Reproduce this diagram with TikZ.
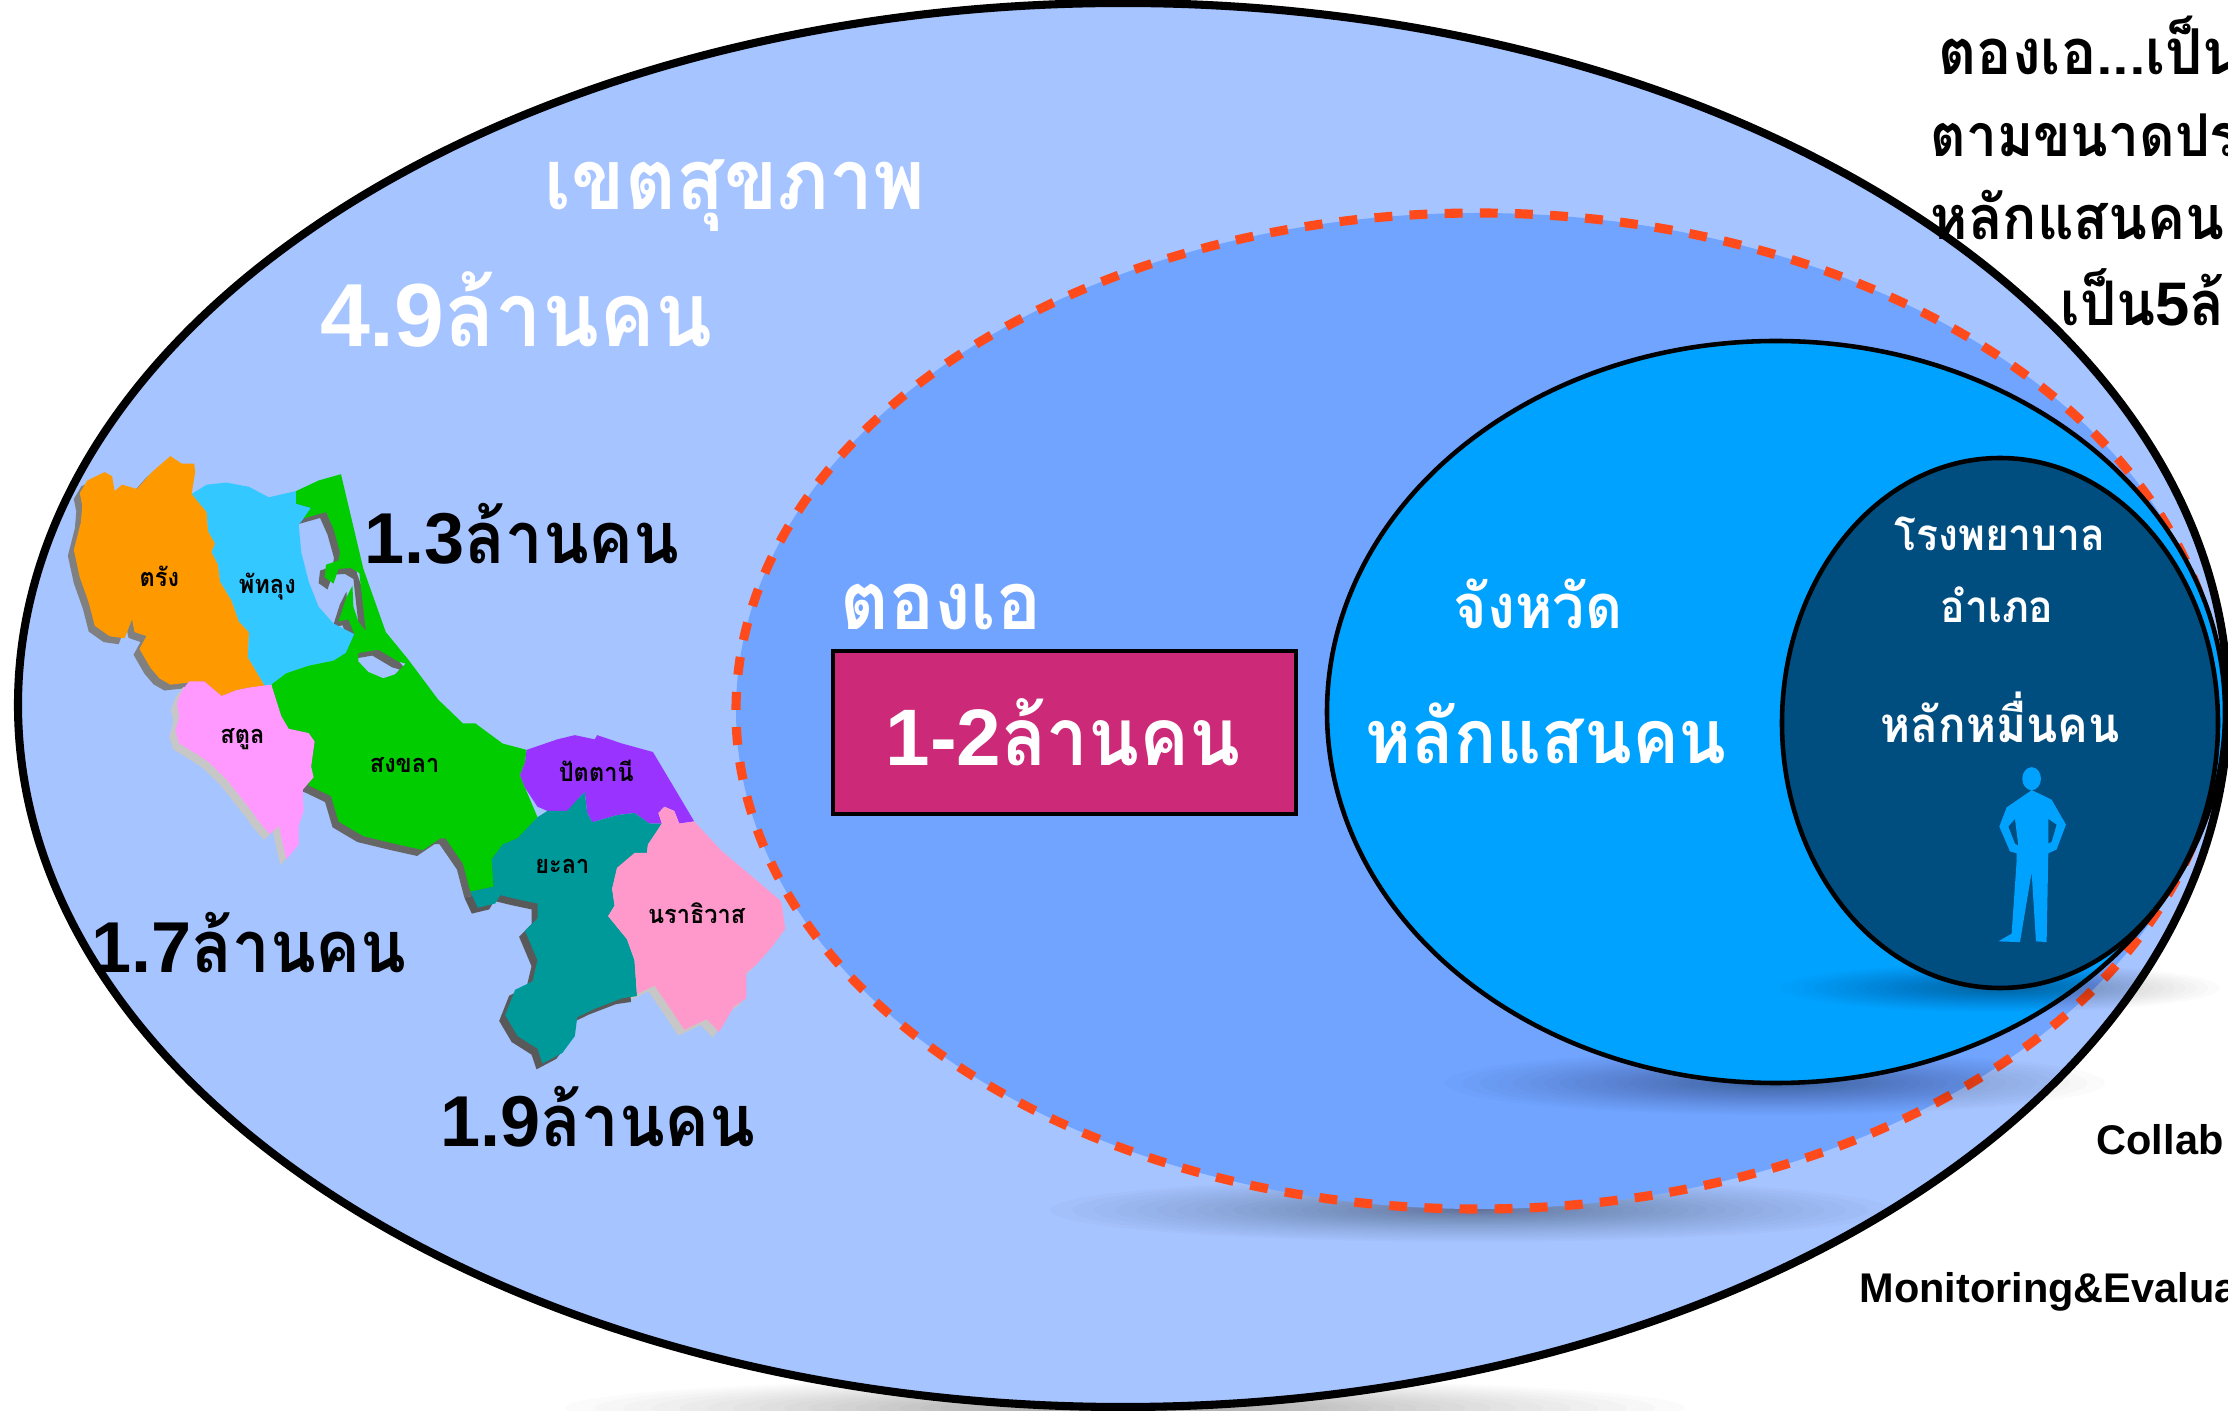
\documentclass[tikz,border=0pt]{standalone}
\usepackage{fontspec}
\usepackage{xcolor}
\newfontfamily\thaifont[Script=Thai,FakeStretch=0.93]{Loma}
\newfontfamily\numfont{Liberation Sans}
\newcommand{\fsize}[1]{\fontsize{#1}{#1}\selectfont}
\newcommand{\popnum}[1]{{\numfont\bfseries #1}ล้านคน}
\newcommand{\softshadow}[4]{\foreach \k in {1,...,30} {\fill[black,opacity=0.016] (#1,#2) ellipse ({#3*pow(\k/30,1.6)} and {#4*pow(\k/30,1.6)});}}
\definecolor{regionblue}{HTML}{A6C4FF}
\definecolor{clusterblue}{HTML}{70A4FF}
\definecolor{provblue}{HTML}{00A2FF}
\definecolor{distblue}{HTML}{004D80}
\definecolor{dashred}{HTML}{FF4A1C}
\definecolor{boxpink}{HTML}{CC2A78}
\definecolor{trangorange}{HTML}{FF9900}
\definecolor{phatblue}{HTML}{33C8FF}
\definecolor{songkhlagreen}{HTML}{00CC00}
\definecolor{satunpink}{HTML}{FF99FF}
\definecolor{pattanipurple}{HTML}{9933FF}
\definecolor{yalateal}{HTML}{009999}
\definecolor{nararose}{HTML}{FF99CC}
\tikzset{
  bigtext/.style={font=\thaifont\bfseries\fsize{#1}, inner sep=0pt},
  maplabel/.style={font=\thaifont\bfseries\fsize{7.2}, inner sep=0pt},
  sidelabel/.style={font=\numfont\bfseries\fsize{11.8}, inner sep=0pt, anchor=west},
  righttext/.style={font=\thaifont\bfseries\fsize{#1}, inner sep=0pt, anchor=west},
}
\def\trangpath{(80,150) -- (95,120) -- (130,100) -- (145,110) -- (150,145) -- (165,130) -- (195,140) -- (225,100) -- (262,62) -- (285,80) -- (310,80) -- (312,100) -- (305,150) -- (335,195) -- (338,240) -- (352,270) -- (345,290) -- (358,320) -- (362,360) -- (385,405) -- (400,455) -- (420,480) -- (418,540) -- (453,610) -- (420,612) -- (395,618) -- (365,632) -- (330,597) -- (300,600) -- (262,605) -- (240,590) -- (222,565) -- (200,520) -- (230,455) -- (215,490) -- (190,480) -- (185,450) -- (170,495) -- (140,490) -- (110,465) -- (98,410) -- (80,350) -- (68,285) -- (82,220) -- (85,180) -- cycle}
\def\phatpath{(305,152) -- (335,130) -- (375,125) -- (420,135) -- (460,160) -- (515,145) -- (515,175) -- (545,185) -- (530,210) -- (520,225) -- (525,290) -- (540,360) -- (560,420) -- (590,460) -- (632,485) -- (615,530) -- (590,548) -- (540,560) -- (495,578) -- (465,605) -- (453,610) -- (418,540) -- (420,480) -- (400,455) -- (385,405) -- (362,360) -- (358,320) -- (345,290) -- (352,270) -- (338,240) -- (335,195) -- cycle}
\def\songkhlapath{(515,145) -- (560,120) -- (605,105) -- (650,330) -- (695,480) -- (740,545) -- (800,640) -- (850,697) -- (875,697) -- (930,745) -- (978,760) -- (975,790) -- (965,820) -- (975,850) -- (1000,920) -- (960,970) -- (930,985) -- (908,1020) -- (912,1085) -- (865,1097) -- (850,1030) -- (815,970) -- (805,970) -- (770,998) -- (720,985) -- (650,965) -- (600,930) -- (585,870) -- (550,850) -- (540,845) -- (552,740) -- (540,720) -- (500,710) -- (485,680) -- (465,605) -- (495,578) -- (540,560) -- (590,548) -- (615,530) -- (632,485) -- (620,450) -- (600,455) -- (615,400) -- (628,370) -- (630,420) -- (640,455) -- (655,478) -- (642,340) -- (625,328) -- (600,330) -- (590,365) -- (572,350) -- (575,320) -- (600,310) -- (603,290) -- (590,235) -- (575,195) -- (530,210) -- (545,185) -- (515,175) -- cycle (640,530) -- (680,522) -- (720,550) -- (735,555) -- (715,580) -- (690,590) -- (660,575) -- (640,550) -- cycle}
\def\satunpath{(300,597) -- (330,597) -- (365,632) -- (395,618) -- (420,612) -- (465,605) -- (485,680) -- (500,710) -- (540,720) -- (552,740) -- (545,800) -- (550,825) -- (528,855) -- (530,905) -- (520,940) -- (520,985) -- (495,1020) -- (480,940) -- (462,960) -- (440,930) -- (425,905) -- (395,860) -- (375,830) -- (340,790) -- (315,770) -- (280,745) -- (272,715) -- (280,680) -- (275,650) -- (285,620) -- cycle}
\def\pattanipath{(978,760) -- (1040,735) -- (1075,725) -- (1115,735) -- (1120,725) -- (1170,745) -- (1232,765) -- (1315,930) -- (1285,935) -- (1275,905) -- (1255,895) -- (1243,910) -- (1250,935) -- (1225,935) -- (1195,910) -- (1160,915) -- (1110,932) -- (1100,910) -- (1095,860) -- (1075,885) -- (1060,905) -- (1020,905) -- (1000,895) -- (975,850) -- (965,820) -- (975,790) -- cycle}
\def\yalapath{(1000,920) -- (1020,905) -- (1060,905) -- (1075,885) -- (1095,860) -- (1100,910) -- (1110,932) -- (1160,915) -- (1195,910) -- (1225,935) -- (1250,935) -- (1222,985) -- (1220,1005) -- (1195,1005) -- (1175,1025) -- (1160,1040) -- (1150,1090) -- (1155,1130) -- (1142,1155) -- (1180,1210) -- (1195,1260) -- (1200,1345) -- (1170,1350) -- (1115,1375) -- (1080,1395) -- (1075,1440) -- (1050,1480) -- (1010,1505) -- (1000,1470) -- (960,1440) -- (935,1390) -- (955,1330) -- (990,1310) -- (1000,1260) -- (975,1190) -- (1000,1160) -- (1000,1125) -- (960,1115) -- (925,1105) -- (915,1125) -- (880,1135) -- (865,1097) -- (912,1085) -- (908,1020) -- (930,985) -- (960,970) -- cycle}
\def\narapath{(1250,935) -- (1243,910) -- (1255,895) -- (1275,905) -- (1285,935) -- (1315,930) -- (1370,1000) -- (1420,1050) -- (1490,1120) -- (1498,1185) -- (1470,1230) -- (1440,1270) -- (1420,1290) -- (1420,1350) -- (1395,1370) -- (1365,1430) -- (1340,1400) -- (1295,1425) -- (1270,1380) -- (1235,1320) -- (1200,1340) -- (1195,1260) -- (1180,1210) -- (1142,1155) -- (1155,1130) -- (1150,1090) -- (1160,1040) -- (1175,1025) -- (1195,1005) -- (1220,1005) -- (1222,985) -- cycle}
\begin{document}
\begin{tikzpicture}[x=0.1mm,y=-0.1mm]
\useasboundingbox (0,0) rectangle (2228,1411);
\clip (0,0) rectangle (2228,1411);
\fill[white] (0,0) rectangle (2228,1411);

\softshadow{1125}{1408}{560}{30}
\filldraw[fill=regionblue,draw=black,line width=2.3pt] (1123,705) ellipse (1105 and 702);

\softshadow{1470}{1210}{420}{32}
\filldraw[fill=clusterblue,draw=dashred,line width=2.6pt,dash pattern=on 5.1pt off 4.9pt] (1478,711) ellipse (742 and 498);

\softshadow{1775}{1083}{330}{32}
\filldraw[fill=provblue,draw=black,line width=1.3pt] (1776,712) ellipse (449 and 371);

\softshadow{2000}{988}{220}{24}
\filldraw[fill=distblue,draw=black,line width=1.3pt] (2000,723) ellipse (218 and 265);

\begin{scope}[shift={(40,430)},xscale=0.4975,yscale=0.4209]
\begin{scope}[shift={(-12,14)}]
\fill[black!50] \trangpath;
\fill[black!22] \satunpath;
\fill[black!60,even odd rule] \songkhlapath;
\fill[black!65] \yalapath;
\fill[black!22] \narapath;
\end{scope}
\fill[trangorange] \trangpath;
\fill[phatblue] \phatpath;
\fill[songkhlagreen,even odd rule] \songkhlapath;
\fill[satunpink] \satunpath;
\fill[pattanipurple] \pattanipath;
\fill[yalateal] \yalapath;
\fill[nararose] \narapath;
\node[maplabel] (trang) at (240,348) {ตรัง};
\node[maplabel] (phatthalung) at (457,372) {พัทลุง};
\node[maplabel] (satun) at (407,735) {สตูล};
\node[maplabel] (songkhla) at (733,795) {สงขลา};
\node[maplabel] (pattani) at (1118,810) {ปัตตานี};
\node[maplabel] (yala) at (1050,1038) {ยะลา};
\node[maplabel] (narathiwat) at (1320,1147) {นราธิวาส};
\end{scope}

\begin{scope}[shift={(1750,440)},xscale=0.3333,yscale=0.3827]
\fill[provblue,even odd rule] (845,885) ellipse (28 and 30)
 (845,915) -- (820,930) -- (770,960) -- (748,1010) -- (780,1075) -- (800,1080) -- (800,1100) -- (785,1290) -- (745,1310) -- (810,1312) -- (845,1130) -- (858,1310) -- (890,1312) -- (895,1080) -- (920,1070) -- (948,1005) -- (905,940) -- (870,925) -- cycle
 (795,990) -- (775,1010) -- (795,1055) -- (805,1060) -- cycle
 (895,990) -- (920,1005) -- (905,1050) -- (895,1055) -- cycle;
\end{scope}

\filldraw[fill=boxpink,draw=black,line width=1.2pt] (833,651) rectangle (1296,814);

\node[bigtext=24,white] (region) at (735,196) {เขตสุขภาพ};
\node[bigtext=25.5,white] (regionpop) at (516,309) {\popnum{4.9}};
\node[bigtext=20.5] (northpop) at (522,534) {\popnum{1.3}};
\node[bigtext=20.5] (westpop) at (249,943) {\popnum{1.7}};
\node[bigtext=20.5] (southpop) at (598,1117) {\popnum{1.9}};
\node[bigtext=23,white] (cluster) at (941,607) {ตองเอ};
\node[bigtext=22.8,white] (clusterpop) at (1063,732) {\popnum{1-2}};
\node[bigtext=17.5,white] (province) at (1538,604) {จังหวัด};
\node[bigtext=21.4,white] (provincepop) at (1546,733) {หลักแสนคน};
\node[bigtext=12.5,white] (hospital) at (2000,534) {โรงพยาบาล};
\node[bigtext=12.5,white] (district) at (1997,605) {อำเภอ};
\node[bigtext=14,white] (districtpop) at (2000,717) {หลักหมื่นคน};

\node[righttext=18] (sideone) at (1938,45) {ตองเอ...เป็น};
\node[righttext=16.8] (sidetwo) at (1930,135) {ตามขนาดปร};
\node[righttext=17.4] (sidethree) at (1930,215) {หลักแสนคน};
\node[righttext=17.5] (sidefour) at (2060,297) {เป็น{\numfont\bfseries 5}ล้};
\node[sidelabel] (collab) at (2096,1140) {Collab};
\node[sidelabel] (monitor) at (1859,1292) {Monitoring\&Evalua};
\end{tikzpicture}
\end{document}
